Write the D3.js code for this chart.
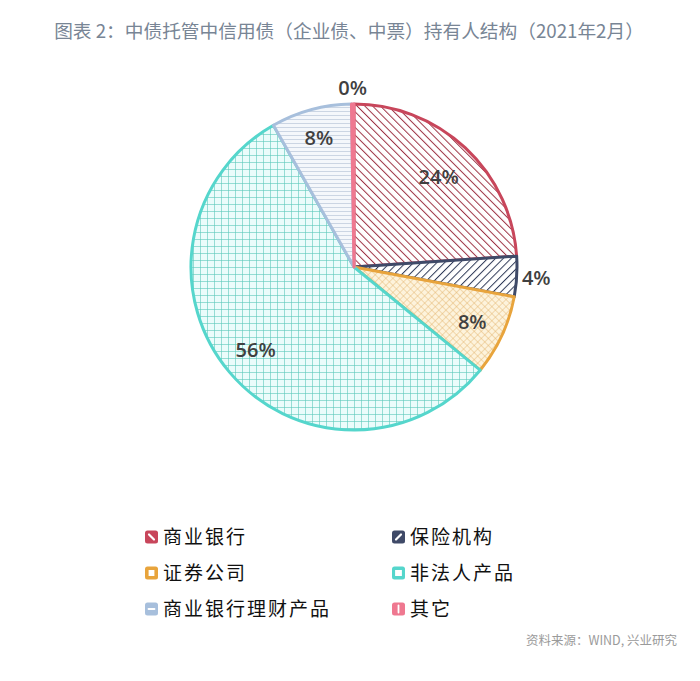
<!DOCTYPE html>
<html>
<head>
<meta charset="utf-8">
<script src="https://cdn.jsdelivr.net/npm/d3@7"></script>
<style>
  body { margin: 0; background: #fff; }
  svg { display: block; }
</style>
</head>
<body>
<svg id="chart" width="700" height="681"></svg>
<script>
// data
const categories = ["商业银行", "保险机构", "证券公司", "非法人产品", "商业银行理财产品", "其它"];
const shares = [24, 4, 8, 56, 8, 0.25];
const labels = ["24%", "4%", "8%", "56%", "8%", "0%"];

const strokeColors = ["#c8465b", "#3f4a68", "#e8a43c", "#55d6cc", "#a7bfdc", "#ef7890"];
const patternIds = ["p-bank", "p-ins", "p-sec", "p-fund", "p-wmp", "p-other"];

const svg = d3.select("#chart");
const cx = 354, cy = 267, r = 163;

// patterns
const defs = svg.append("defs");
function hatch(id, bg, line, size, angle, width) {
    const pat = defs.append("pattern")
        .attr("id", id)
        .attr("patternUnits", "userSpaceOnUse")
        .attr("width", size).attr("height", size)
        .attr("patternTransform", `rotate(${angle})`);
    pat.append("rect").attr("width", size).attr("height", size).attr("fill", bg);
    pat.append("line")
        .attr("x1", 0).attr("y1", 0).attr("x2", 0).attr("y2", size)
        .attr("stroke", line).attr("stroke-width", width);
    return pat;
}
function grid(id, bg, line, size, angle, width) {
    const pat = hatch(id, bg, line, size, angle, width);
    pat.append("line").attr("x1", 0).attr("y1", 0).attr("x2", size).attr("y2", 0)
        .attr("stroke", line).attr("stroke-width", width);
    return pat;
}
hatch("p-bank", "#fff", "#9e3445", 5.5, -45, 2);
hatch("p-ins", "#fff", "#2f3a58", 5.5, 45, 2);
grid("p-sec", "#fdf3dc", "#e2b46a", 5, 45, 0.9);
grid("p-fund", "#ebfcfb", "#5cc9bb", 7, 0, 1.2);
hatch("p-wmp", "#f4f7fb", "#a3b4cc", 4, 90, 1);
hatch("p-other", "#fde6ea", "#d14a62", 3, 0, 1);

// title
svg.append("text")
    .attr("x", 349).attr("y", 38)
    .attr("text-anchor", "middle")
    .attr("font-family", "'Noto Sans CJK SC', 'Noto Sans', sans-serif")
    .attr("font-size", "18.7px")
    .attr("fill", "#788595")
    .text("图表 2：中债托管中信用债（企业债、中票）持有人结构（2021年2月）");

// pie
const pie = d3.pie().value(d => d).sort(null);
const arcs = pie(shares);
const arc = d3.arc().innerRadius(0).outerRadius(r);

const g = svg.append("g").attr("transform", `translate(${cx},${cy})`);

g.selectAll("path.slice")
    .data(arcs)
    .join("path")
    .attr("class", "slice")
    .attr("d", arc)
    .attr("fill", (d, i) => `url(#${patternIds[i]})`)
    .attr("stroke", (d, i) => strokeColors[i])
    .attr("stroke-width", 3)
    .attr("stroke-linejoin", "round");

// label distance from centre, as a share of the radius
const labelRadius = [0.76, 1.12, 0.8, 0.79, 0.82, 1.1];

g.selectAll("text.lbl")
    .data(arcs)
    .join("text")
    .attr("class", "lbl")
    .attr("transform", (d, i) => {
        const rr = r * labelRadius[i];
        const c = d3.arc().innerRadius(rr).outerRadius(rr).centroid(d);
        return `translate(${c[0]},${c[1]})`;
    })
    .attr("text-anchor", "middle")
    .attr("dy", "0.35em")
    .attr("font-family", "'Open Sans', sans-serif")
    .attr("font-weight", 600)
    .attr("font-size", "20px")
    .attr("fill", "#404040")
    .text((d, i) => labels[i]);

// legend
const legendX = d3.scalePoint().domain([0, 1]).range([145, 392]);
const legendY = d3.scalePoint().domain([0, 1, 2]).range([537, 609]);

const items = svg.append("g").selectAll("g.item")
    .data(categories)
    .join("g")
    .attr("class", "item")
    .attr("transform", (d, i) => `translate(${legendX(i % 2)},${legendY(Math.floor(i / 2))})`);

items.append("rect")
    .attr("x", 0).attr("y", -6.5)
    .attr("width", 13).attr("height", 13)
    .attr("rx", 2.5)
    .attr("fill", (d, i) => strokeColors[i]);

// little white glyph in each swatch
const marks = [
    "M4,-2.5 L9,2.5",
    "M4,2.5 L9,-2.5",
    "M4.5,-2 h4 v4 h-4 z",
    "M4,-2 h5 v4 h-5 z",
    "M3.5,0 h6",
    "M6.5,-3.5 v7"
];
items.append("path")
    .attr("d", (d, i) => marks[i])
    .attr("stroke", "#fff")
    .attr("stroke-width", (d, i) => i < 2 ? 2.2 : 1.8)
    .attr("fill", (d, i) => (i === 2 || i === 3) ? "#fff" : "none")
    .attr("stroke-linecap", "round");

items.append("text")
    .attr("x", 18).attr("y", 0)
    .attr("dy", "0.36em")
    .attr("font-family", "'Noto Sans CJK SC', sans-serif")
    .attr("font-size", "19px")
    .attr("letter-spacing", "2px")
    .attr("fill", "#111")
    .text(d => d);

// source note
svg.append("text")
    .attr("x", 677).attr("y", 645)
    .attr("text-anchor", "end")
    .attr("font-family", "'Noto Sans CJK SC', sans-serif")
    .attr("font-size", "12.5px")
    .attr("fill", "#9a9a9a")
    .text("资料来源：WIND, 兴业研究");
</script>
</body>
</html>
